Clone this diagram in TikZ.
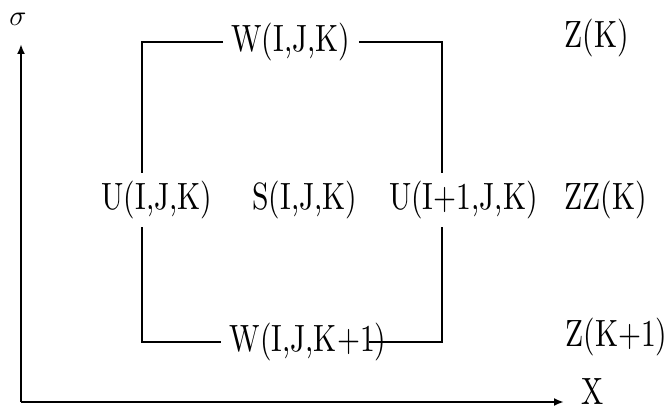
\documentclass[tikz,border=0pt]{standalone}
\usepackage{fontspec}
\setmainfont{lmroman10-regular.otf}[FakeStretch=0.78]
\usetikzlibrary{arrows.meta,calc}

\begin{document}
\begin{tikzpicture}[x=0.5pt,y=-0.5pt,
    lbl/.style={inner sep=4pt, font=\fontsize{19}{22}\selectfont},
    rim/.style={line width=1pt},
    axis/.style={line width=1pt, -{Latex[length=5pt,width=4pt]}}]
    \useasboundingbox (0,0) rectangle (670,411);

    % Axes
    \coordinate (o) at (21,402);
    \coordinate (ytip) at (21,44);
    \coordinate (xtip) at (564,402);
    \draw[axis] (o) -- (ytip);
    \draw[axis] (o) -- (xtip);
    \node[font=\fontsize{14}{16}\selectfont] (sig) at (18,19) {$\sigma$};
    \node[lbl, anchor=base] (xl) at (593,405) {X};

    % Cell labels
    \node[lbl] (wt) at (291,42) {W(I,J,K)};
    \node[lbl] (ul) at (157,200) {U(I,J,K)};
    \node[lbl] (s) at (305,200) {S(I,J,K)};
    \node[lbl] (ur) at (463.5,200) {U(I+1,J,K)};
    \node[lbl] (wb) at (308,342) {W(I,J,K+1)};

    % Level labels
    \node[lbl, anchor=base west] (z) at (556,48) {Z(K)};
    \node[lbl, anchor=base west] (zz) at (556,210) {ZZ(K)};
    \node[lbl, anchor=base west] (zn) at (557,347) {Z(K+1)};

    % Cell outline
    \coordinate (tl) at (142,42);
    \coordinate (tr) at (442,42);
    \coordinate (bl) at (142,342);
    \coordinate (br) at (442,342);
    \draw[rim] (wt.west) -- (tl) -- (tl |- ul.north);
    \draw[rim] (wt.east) -- (tr) -- (tr |- ur.north);
    \draw[rim] (ul.south -| bl) -- (bl) -- (wb.west);
    \draw[rim] (ur.south -| br) -- (br) -- ($(wb.east)+(-26,0)$);
\end{tikzpicture}
\end{document}
